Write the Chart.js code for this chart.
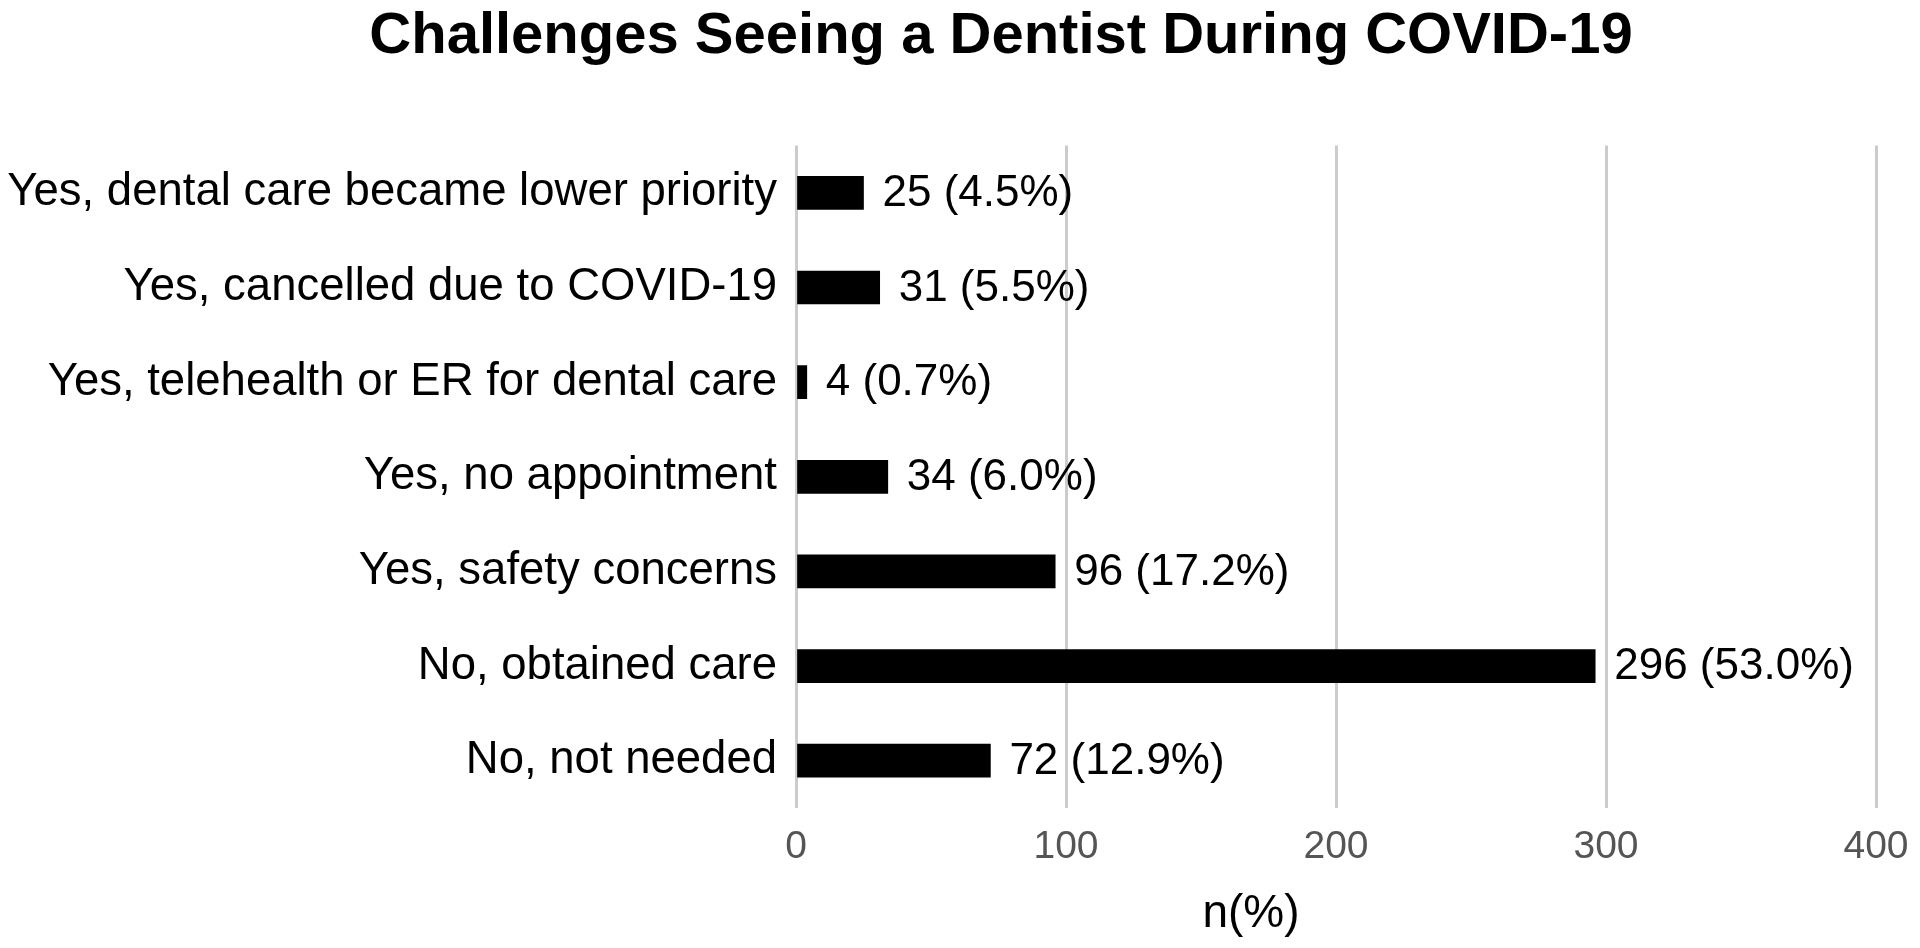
<!DOCTYPE html>
<html>
<head>
<meta charset="utf-8">
<script src="https://cdn.jsdelivr.net/npm/chart.js@4/dist/chart.umd.min.js"></script>
<style>
  html, body { margin: 0; padding: 0; background: #fff; overflow: hidden; }
  #c { display: block; }
</style>
</head>
<body>
<canvas id="c" width="1920" height="948" style="width:1920px;height:948px"></canvas>
<script>
const categories = [
  "Yes, dental care became lower priority",
  "Yes, cancelled due to COVID-19",
  "Yes, telehealth or ER for dental care",
  "Yes, no appointment",
  "Yes, safety concerns",
  "No, obtained care",
  "No, not needed"
];
const counts = [25, 31, 4, 34, 96, 296, 72];
const percents = ["4.5", "5.5", "0.7", "6.0", "17.2", "53.0", "12.9"];
const xTicks = [0, 100, 200, 300, 400];
const titleText = "Challenges Seeing a Dentist During COVID-19";
const xTitle = "n(%)";

const FONT = "'Liberation Sans', Arial, Helvetica, sans-serif";

// value labels at bar ends + shifted title / axis title
const extras = {
  id: 'extras',
  afterLayout(chart) {
    const t = chart.titleBlock;
    if (t) { t.left = 120; t.right = 1882; t.width = t.right - t.left; }
  },
  afterDatasetsDraw(chart) {
    const ctx = chart.ctx;
    const meta = chart.getDatasetMeta(0);
    ctx.save();
    ctx.font = "44px " + FONT;
    ctx.fillStyle = "#000";
    ctx.textAlign = "left";
    ctx.textBaseline = "middle";
    meta.data.forEach((bar, i) => {
      ctx.fillText(counts[i] + " (" + percents[i] + "%)", bar.x + 19, bar.y + 1);
    });
    ctx.restore();
  },
  afterDraw(chart) {
    const ctx = chart.ctx;
    ctx.save();
    ctx.font = "46px " + FONT;
    ctx.fillStyle = "#000";
    ctx.textAlign = "center";
    ctx.textBaseline = "middle";
    ctx.fillText(xTitle, 1251, 914);
    ctx.restore();
  }
};

new Chart(document.getElementById('c'), {
  type: 'bar',
  data: {
    labels: categories,
    datasets: [{
      data: counts,
      backgroundColor: '#000',
      borderWidth: 0,
      barThickness: 33
    }]
  },
  options: {
    indexAxis: 'y',
    responsive: false,
    maintainAspectRatio: false,
    animation: false,
    devicePixelRatio: 1,
    layout: { padding: { left: 0, right: 44, top: 0, bottom: 0 } },
    plugins: {
      legend: { display: false },
      tooltip: { enabled: false },
      title: {
        display: true,
        text: titleText,
        color: '#000',
        font: { family: FONT, size: 58, weight: 'bold' },
        padding: { top: 2, bottom: 74 }
      }
    },
    scales: {
      x: {
        min: 0, max: 400,
        afterBuildTicks(scale) { scale.ticks = xTicks.map(v => ({ value: v })); },
        afterFit(scale) { scale.height = 140; scale.paddingRight = 0; scale.paddingLeft = 0; },
        grid: { color: '#cccccc', lineWidth: 3, drawTicks: false },
        border: { display: false },
        ticks: { color: '#555', padding: 16, font: { family: FONT, size: 39 } },
        title: { display: false, text: xTitle }
      },
      y: {
        afterFit(scale) { scale.width = 796; },
        grid: { display: false, drawTicks: false },
        border: { display: false },
        ticks: { color: '#000', padding: 19, font: { family: FONT, size: 45.5 } }
      }
    }
  },
  plugins: [extras]
});
</script>
</body>
</html>
